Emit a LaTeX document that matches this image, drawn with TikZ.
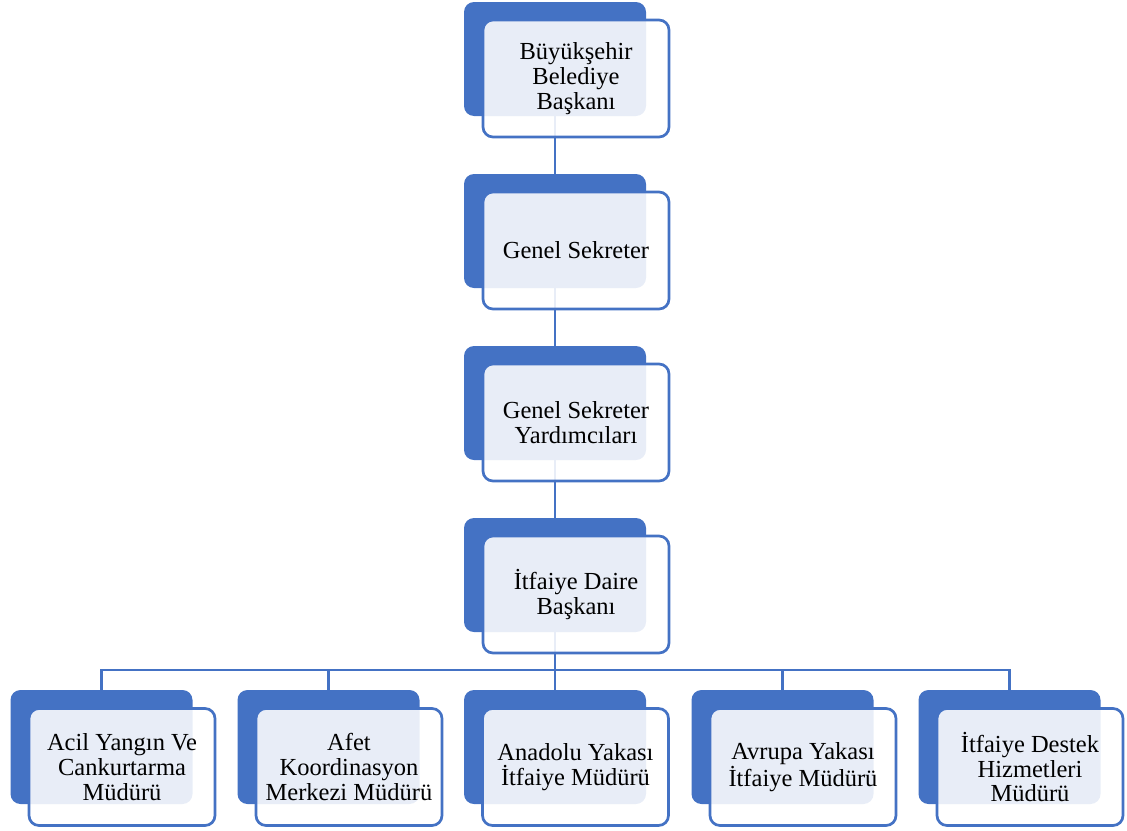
\documentclass[tikz,border=0pt]{standalone}
\usepackage{fontspec}
\setmainfont{Liberation Serif}
\usetikzlibrary{positioning}
\definecolor{orgblue}{HTML}{4472C4}
\tikzset{
	backbox/.style = {fill = orgblue, rounded corners = 10pt, minimum width = 182pt, minimum height = 114pt, inner sep = 0pt},
	frontbox/.style = {draw = orgblue, line width = 2.7pt, fill = white, fill opacity = 0.88, text opacity = 1, rounded corners = 10pt, minimum width = 186pt, minimum height = 117pt, inner sep = 0pt, align = center, font = \fontsize{24.5}{24.8}\selectfont},
	link/.style = {draw = orgblue, line width = 2.5pt}
}
\begin{document}
\begin{tikzpicture}[x = 1pt, y = -1pt]
	\useasboundingbox (0, 0) rectangle (1127, 830);
	% back boxes
	\node[backbox] (bsk) at (555, 59) {};
	\node[backbox] (gs) at (555, 231) {};
	\node[backbox] (gsy) at (555, 403) {};
	\node[backbox] (idb) at (555, 575) {};
	\node[backbox] (acil) at (101.5, 747) {};
	\node[backbox] (afet) at (328.5, 747) {};
	\node[backbox] (anadolu) at (555, 747) {};
	\node[backbox] (avrupa) at (782.5, 747) {};
	\node[backbox] (destek) at (1009.5, 747) {};
	% connectors
	\draw[link] (bsk.south) -- (gs.north);
	\draw[link] (gs.south) -- (gsy.north);
	\draw[link] (gsy.south) -- (idb.north);
	\coordinate (bus) at (555, 670);
	\draw[link] (idb.south) -- (bus);
	\draw[link] (bus) -| (acil.north);
	\draw[link] (bus) -| (afet.north);
	\draw[link] (bus) -- (anadolu.north);
	\draw[link] (bus) -| (avrupa.north);
	\draw[link] (bus) -| (destek.north);
	% front boxes
	\node[frontbox] (bsk-t) at ([shift = {(21, 19.5)}] bsk.center) {Büyükşehir\\Belediye\\Başkanı};
	\node[frontbox] (gs-t) at ([shift = {(21, 19.5)}] gs.center) {Genel Sekreter};
	\node[frontbox] (gsy-t) at ([shift = {(21, 19.5)}] gsy.center) {Genel Sekreter\\Yardımcıları};
	\node[frontbox] (idb-t) at ([shift = {(21, 19.5)}] idb.center) {İtfaiye Daire\\Başkanı};
	\node[frontbox] (acil-t) at ([shift = {(20.5, 20)}] acil.center) {Acil Yangın Ve\\Cankurtarma\\Müdürü};
	\node[frontbox] (afet-t) at ([shift = {(20.5, 20)}] afet.center) {Afet\\Koordinasyon\\Merkezi Müdürü};
	\node[frontbox] (anadolu-t) at ([shift = {(20.5, 20)}] anadolu.center) {Anadolu Yakası\\İtfaiye Müdürü};
	\node[frontbox] (avrupa-t) at ([shift = {(20.5, 20)}] avrupa.center) {Avrupa Yakası\\İtfaiye Müdürü};
	\node[frontbox] (destek-t) at ([shift = {(20.5, 20)}] destek.center) {İtfaiye Destek\\Hizmetleri\\Müdürü};
\end{tikzpicture}
\end{document}
